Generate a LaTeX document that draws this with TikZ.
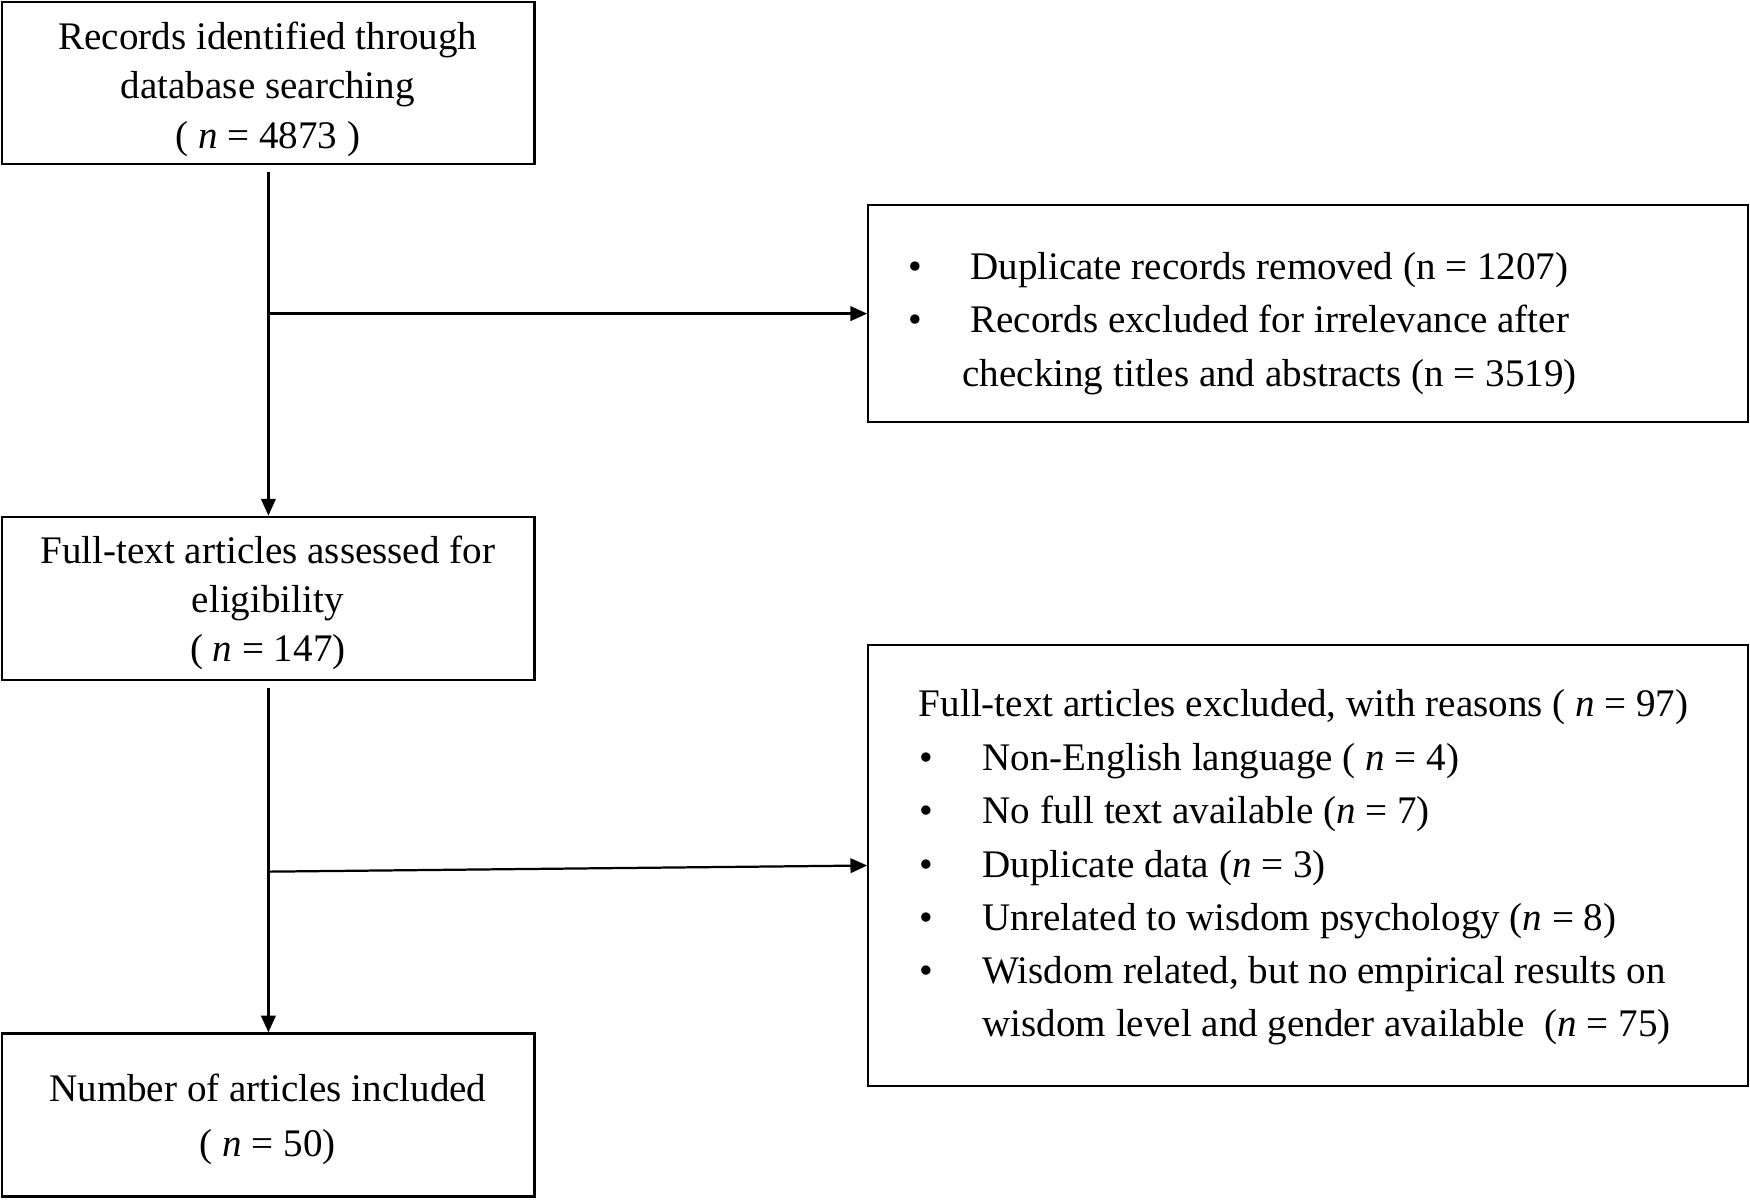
\documentclass[tikz,border=0pt]{standalone}
\usepackage{fontspec}
\setmainfont{Liberation Serif}
\usetikzlibrary{arrows.meta}
\begin{document}
\begin{tikzpicture}[x=0.5pt,y=-0.5pt,
  box/.style={draw, line width=1pt, inner sep=0pt, fill=none},
  txt/.style={inner sep=0pt, anchor=base, font=\fontsize{17.5}{22}\selectfont},
  txtl/.style={inner sep=0pt, anchor=base west, font=\fontsize{17.5}{22}\selectfont},
  arrow/.style={line width=1pt, -{Triangle[length=7.5pt,width=6.5pt]}},
  conn/.style={line width=1pt}]
\useasboundingbox (0,0) rectangle (1568,1075);
% boxes
\node[box, minimum width=238.5pt, minimum height=72.5pt] (b1) at (240.5,74.5) {};
\node[box, minimum width=394pt, minimum height=97pt] (b2) at (1172,281) {};
\node[box, minimum width=238.5pt, minimum height=73pt] (b3) at (240.5,536) {};
\node[box, minimum width=238.5pt, minimum height=73pt] (b4) at (240.5,999) {};
\node[box, minimum width=394pt, minimum height=197.5pt] (b5) at (1172,775.5) {};
% box 1 text
\node[txt] (t11) at (240,44) {Records identified through};
\node[txt] (t12) at (240,88) {database searching};
\node[txt] (t13) at (240,133) {( \textit{n} = 4873 )};
% box 3 text
\node[txt] (t31) at (240,505) {Full-text articles assessed for};
\node[txt] (t32) at (240,549) {eligibility};
\node[txt] (t33) at (240,593) {( \textit{n} = 147)};
% box 4 text
\node[txt] (t41) at (240,987) {Number of articles included};
\node[txt] (t42) at (240,1036) {( \textit{n} = 50)};
% box 2 text
\node[txt] (u21) at (820,250) {\textbullet};
\node[txt] (u22) at (820,298) {\textbullet};
\node[txtl] (t21) at (869,250) {Duplicate records removed (n = 1207)};
\node[txtl] (t22) at (869,298) {Records excluded for irrelevance after};
\node[txtl] (t23) at (862,346) {checking titles and abstracts (n = 3519)};
% box 5 text
\node[txtl] (t50) at (823,642) {Full-text articles excluded, with reasons ( \textit{n} = 97)};
\node[txt] (u51) at (830,690) {\textbullet};
\node[txt] (u52) at (830,738) {\textbullet};
\node[txt] (u53) at (830,786) {\textbullet};
\node[txt] (u54) at (830,834) {\textbullet};
\node[txt] (u55) at (830,881) {\textbullet};
\node[txtl] (t51) at (880,690) {Non-English language ( \textit{n} = 4)};
\node[txtl] (t52) at (880,738) {No full text available (\textit{n} = 7)};
\node[txtl] (t53) at (880,786) {Duplicate data (\textit{n} = 3)};
\node[txtl] (t54) at (880,834) {Unrelated to wisdom psychology (\textit{n} = 8)};
\node[txtl] (t55) at (880,881) {Wisdom related, but no empirical results on};
\node[txtl] (t56) at (880,929) {wisdom level and gender available\ \ (\textit{n} = 75)};
% connectors
\coordinate (j1) at (240,281);
\coordinate (j2) at (240,781);
\draw[arrow] ([yshift=-3pt]b1.south) -- (b3.north);
\draw[arrow] (j1) -- (b2.west);
\draw[arrow] ([yshift=-3pt]b3.south) -- (b4.north);
\draw[arrow] (j2) -- (b5.west);
\end{tikzpicture}
\end{document}
